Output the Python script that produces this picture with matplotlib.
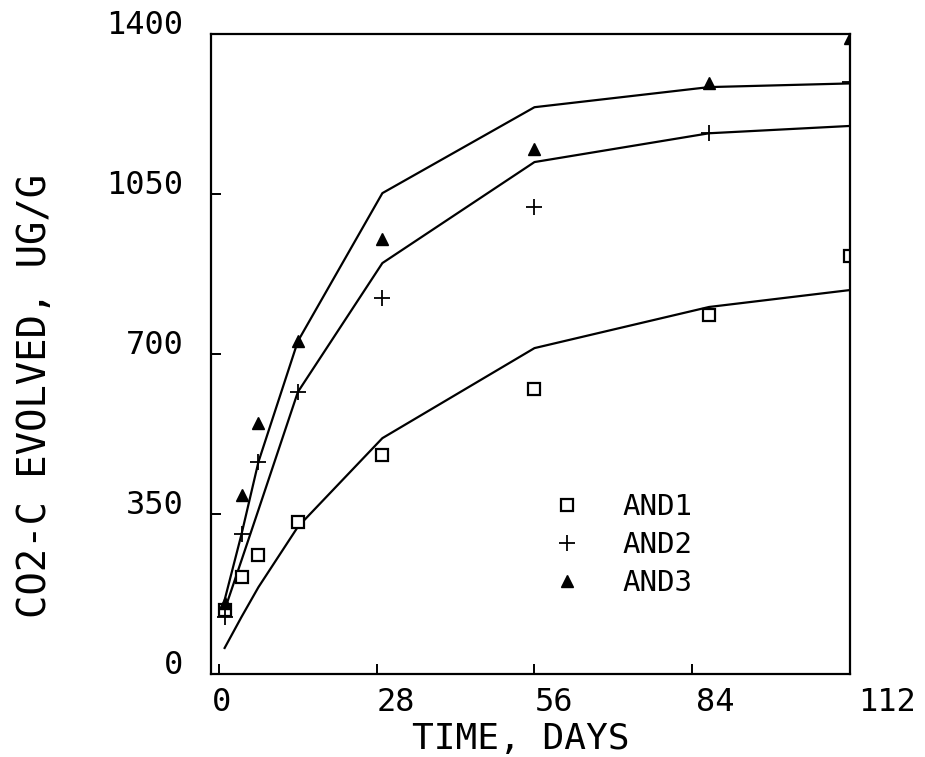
import matplotlib
matplotlib.use('Agg')
from matplotlib import pyplot as plt
from matplotlib.transforms import ScaledTranslation

# sampling days and CO2-C evolved (ug/g)
days = [1, 4, 7, 14, 29, 56, 87, 112]

and1_obs = [140, 212, 260, 332, 479, 623, 785, 914]
and2_obs = [125, 306, 464, 617, 822, 1022, 1183, 1295]
and3_obs = [155, 392, 549, 728, 952, 1148, 1293, 1391]

and1_fit = [57, 125, 190, 322, 516, 713, 803, 840]
and2_fit = [140, 249, 359, 617, 899, 1120, 1183, 1199]
and3_fit = [162, 306, 464, 728, 1052, 1240, 1284, 1292]

series_names = ['AND1', 'AND2', 'AND3']
x_ticks = [0, 28, 56, 84, 112]
y_ticks = [0, 350, 700, 1050, 1400]

FONT = 'DejaVu Sans Mono'
plt.rcParams['font.family'] = FONT

fig = plt.figure(figsize=(9.25, 7.57), dpi=100)
ax = fig.add_axes([0.2281, 0.1096, 0.6908, 0.8454])

for fit in (and1_fit, and2_fit, and3_fit):
  ax.plot(days, fit, color='black', lw=1.6, solid_joinstyle='round')

h1, = ax.plot(days, and1_obs, ls='none', marker='s', ms=8, mfc='white', mec='black', mew=1.6)
h2, = ax.plot(days, and2_obs, ls='none', marker='+', ms=11, mec='black', mew=1.3)
h3, = ax.plot(days, and3_obs, ls='none', marker='^', ms=9, mfc='black', mec='black')

ax.set_xlim(-1.42, 112)
ax.set_ylim(0, 1400)

for s in ax.spines.values():
  s.set_linewidth(1.6)

ax.tick_params(direction='in', length=7, width=1.4, labelsize=23)
ax.tick_params(axis='x', pad=9)
ax.tick_params(axis='y', pad=20)
ax.set_xticks(x_ticks, [str(t) for t in x_ticks])
ax.set_yticks(y_ticks, [str(t) for t in y_ticks])

# plotter put the labels a little off their ticks
x_shift = [3, 19, 20, 23, 37]
for lab, dx in zip(ax.get_xticklabels(), x_shift):
  lab.set_transform(lab.get_transform() + ScaledTranslation(dx / 100, 0, fig.dpi_scale_trans))
for lab in ax.get_yticklabels():
  lab.set_transform(lab.get_transform() + ScaledTranslation(0, 12 / 100, fig.dpi_scale_trans))

ax.set_xlabel('TIME, DAYS', fontsize=26)
ax.xaxis.set_label_coords(0.485, -0.075)
ax.set_ylabel('CO2-C EVOLVED, UG/G', fontsize=28)
ax.yaxis.set_label_coords(-0.245, 0.434)

ax.legend([h1, h2, h3], series_names, loc='upper left', bbox_to_anchor=(0.534, 0.283),
          frameon=False, fontsize=21, handlelength=1.0, handletextpad=1.4,
          labelspacing=0.35, borderpad=0, borderaxespad=0)

fig.savefig('out.png', dpi=100)
